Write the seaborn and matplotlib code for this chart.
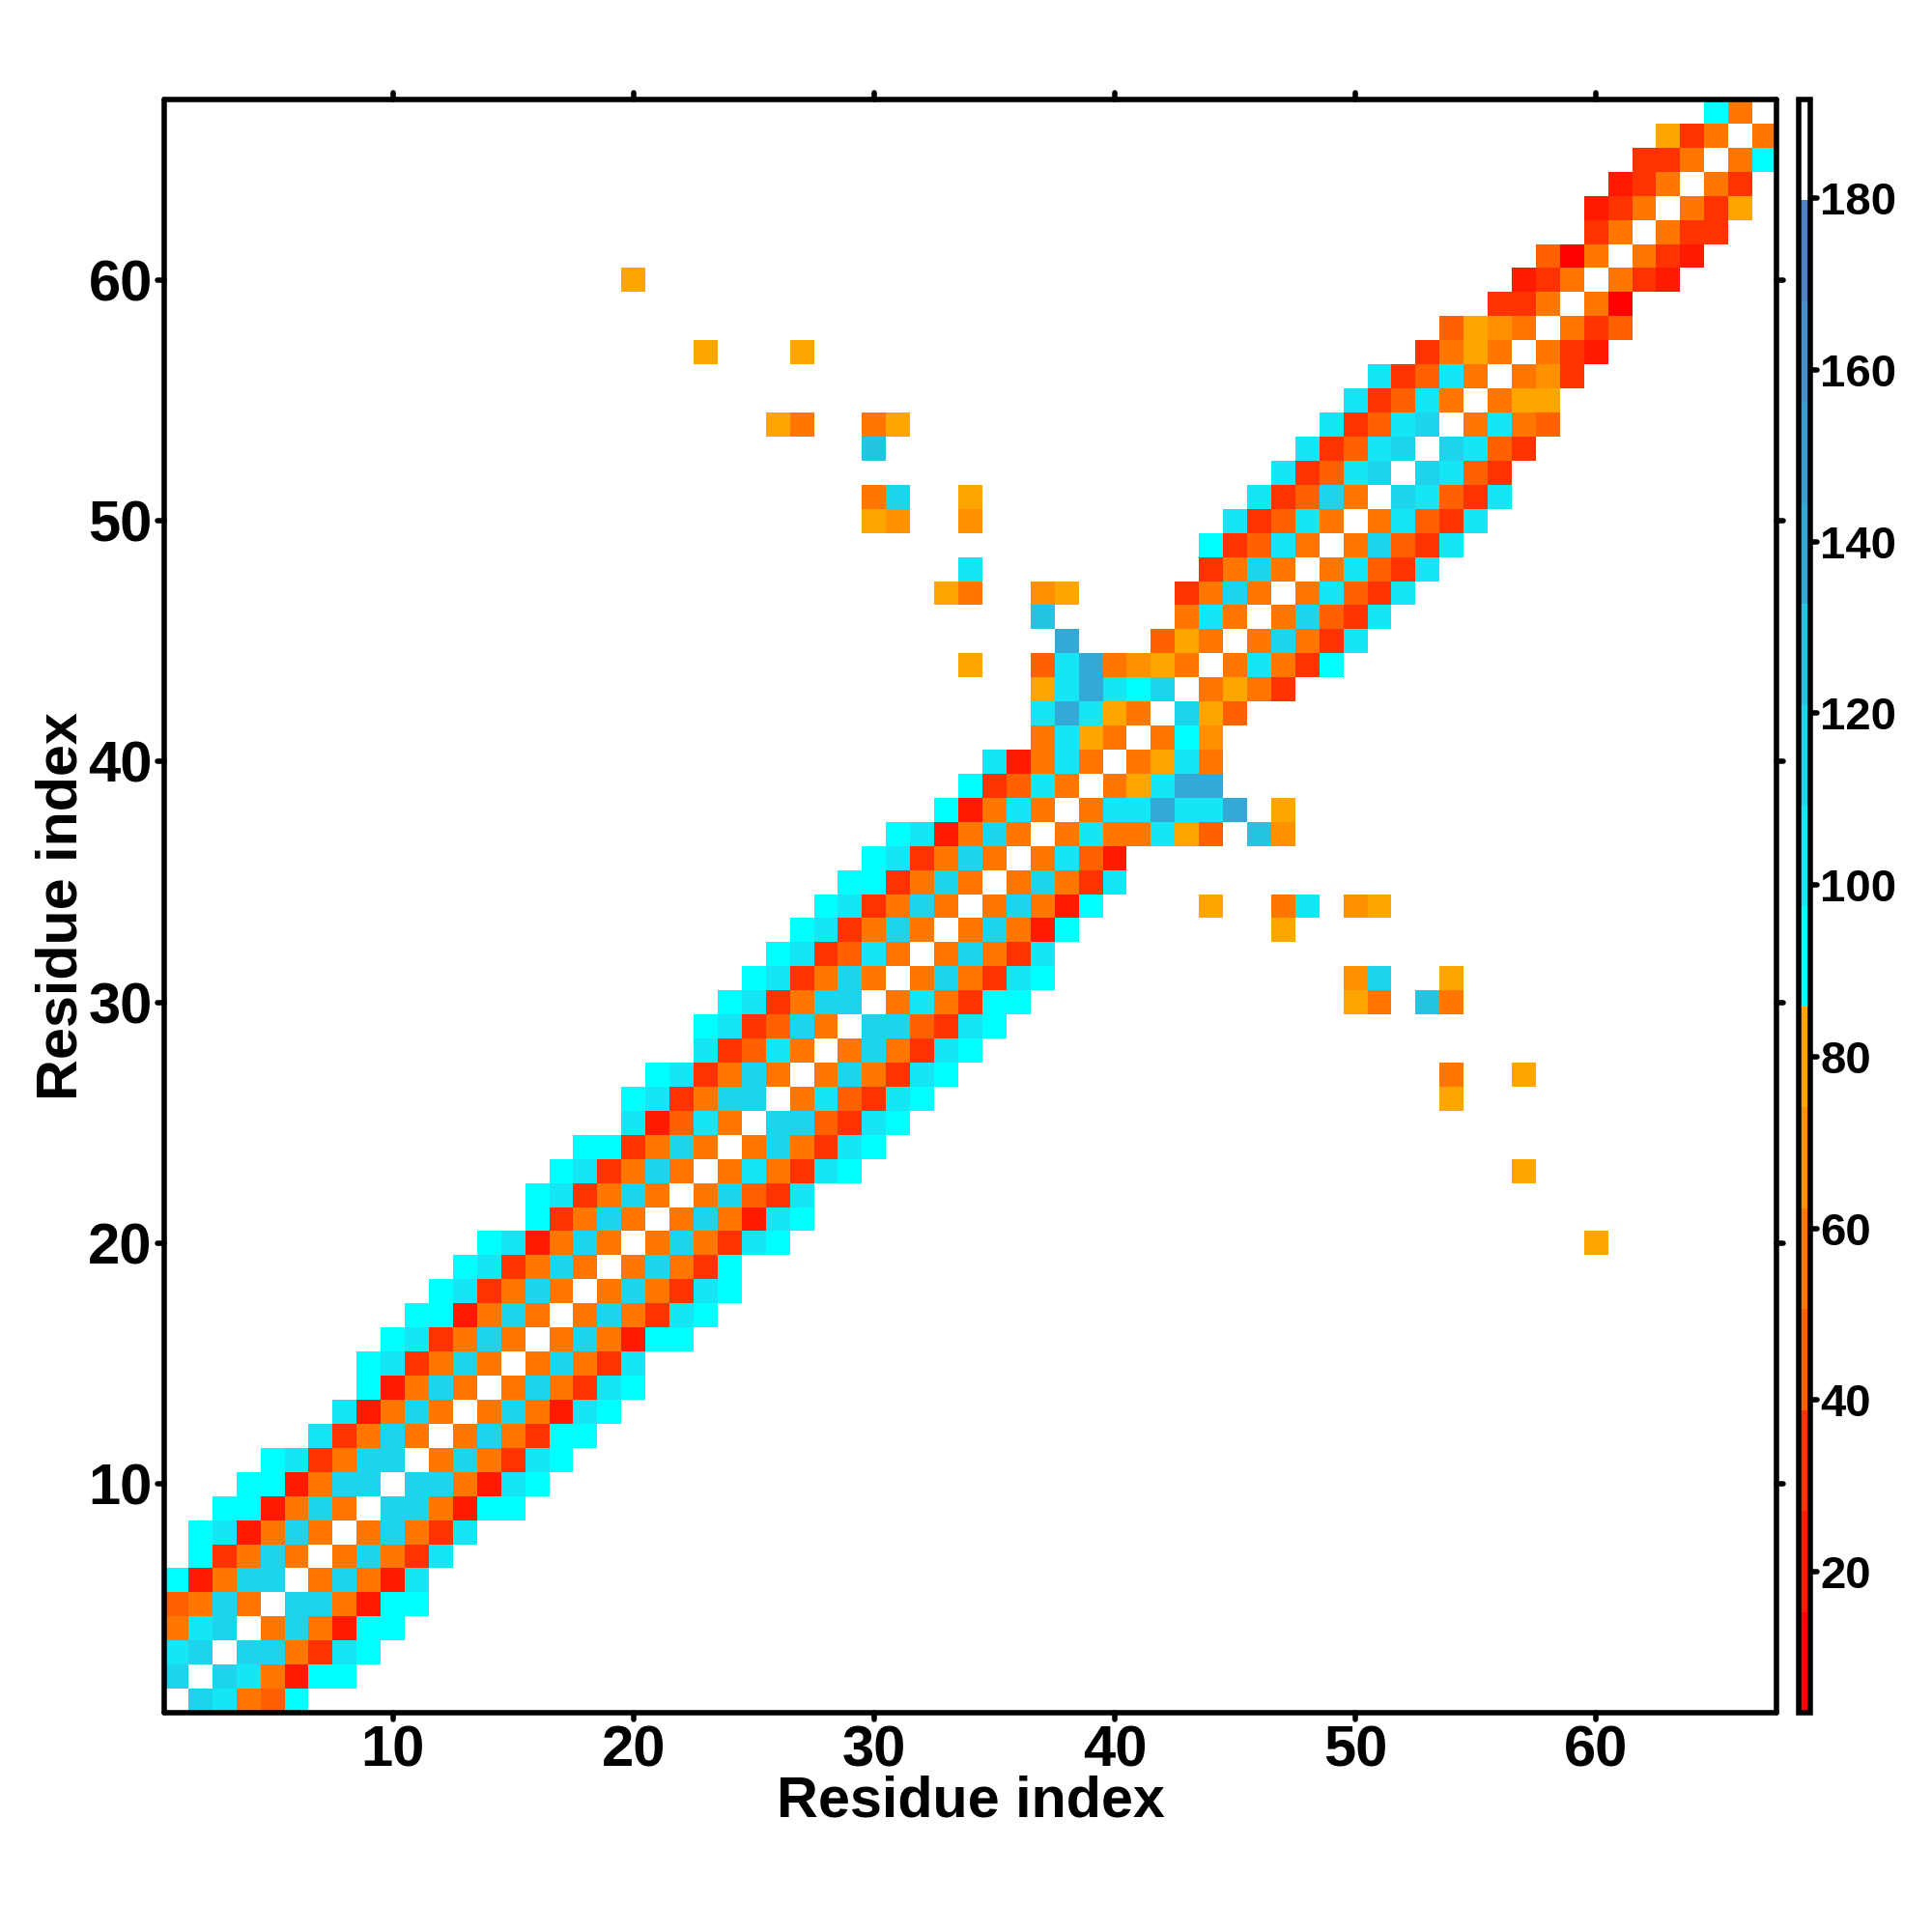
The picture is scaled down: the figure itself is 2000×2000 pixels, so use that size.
import numpy as np
import matplotlib
matplotlib.use("Agg")
import matplotlib.pyplot as plt
from matplotlib.colors import ListedColormap, BoundaryNorm
from matplotlib.markers import MarkerStyle, TICKDOWN, TICKUP, TICKLEFT, TICKRIGHT
import seaborn as sns

n_res = 67
diag_val = 186
tick_vals = [10, 20, 30, 40, 50, 60]
cbar_ticks = [20, 40, 60, 80, 100, 120, 140, 160, 180]

# distance levels of the colour bar
level_edges = [3.6, 15.3, 27.1, 38.8, 50.6, 62.3, 74.1, 85.8, 97.5, 109.3, 121.0, 132.8, 144.5, 156.3, 168.0, 179.8, 191.5]
level_colors = ["#ff0000", "#ff1a00", "#ff3300", "#ff6000", "#ff7700", "#ff9000", "#ffa500",
                "#00ffff", "#14e6f5", "#1cd4ec", "#25c5e2", "#34a9d5", "#3a9dd0", "#4690c9", "#4e80c3", "#ffffff"]

# values to the right of the diagonal, one list per residue
band = [
    [115, 103, 56, 45, 92],
    [115, 103, 56, 21, 92, 92],
    [115, 115, 56, 33, 103, 92],
    [56, 115, 56, 21, 92, 92],
    [115, 115, 56, 21, 92, 92],
    [56, 115, 56, 21, 103],
    [56, 115, 56, 33, 103],
    [56, 115, 56, 33, 103],
    [115, 115, 56, 21, 92, 92],
    [115, 115, 56, 21, 103, 92],
    [56, 115, 56, 33, 103, 92],
    [56, 115, 56, 33, 92, 92],
    [56, 115, 56, 21, 103, 92],
    [56, 115, 56, 33, 103, 92],
    [56, 115, 56, 33, 103],
    [56, 115, 56, 21, 92, 92],
    [56, 115, 56, 33, 103, 92],
    [56, 115, 56, 33, 103, 92],
    [56, 115, 56, 33, 92],
    [56, 115, 56, 33, 103, 92],
    [56, 115, 56, 21, 103, 92],
    [56, 115, 45, 33, 103],
    [56, 103, 56, 33, 103, 92],
    [56, 115, 56, 33, 103, 92],
    [115, 115, 45, 33, 103, 92],
    [56, 103, 45, 33, 103, 92],
    [56, 115, 56, 33, 103, 92],
    [56, 115, 56, 33, 103, 92],
    [115, 115, 45, 33, 103, 92],
    [56, 103, 56, 33, 92, 92],
    [56, 115, 56, 33, 103, 92],
    [56, 115, 56, 33, 103],
    [56, 115, 56, 21, 92],
    [56, 115, 56, 21, 92],
    [56, 115, 56, 33, 103],
    [56, 103, 45, 21],
    [56, 103, 56, 56, 103, 80, 45],
    [56, 103, 103, 139, 103, 103, 139],
    [56, 80, 103, 139, 139],
    [56, 80, 103, 56],
    [56, 92, 68],
    [115, 80, 45],
    [56, 80, 56, 33],
    [56, 103, 56, 33, 92],
    [56, 115, 56, 33, 103],
    [56, 115, 45, 33, 103],
    [56, 103, 45, 33, 103],
    [56, 103, 45, 33, 103],
    [56, 115, 45, 33, 103],
    [56, 103, 45, 33, 103],
    [115, 103, 45, 33, 103],
    [115, 103, 45, 33],
    [115, 103, 45, 33],
    [56, 103, 56, 45],
    [56, 80, 80],
    [56, 68, 33],
    [56, 33, 21],
    [56, 33, 45],
    [56, 9],
    [56, 33, 21],
    [56, 33, 21],
    [56, 33, 33],
    [56, 33, 80],
    [56, 33],
    [56, 92],
    [56],
]

# long range contacts away from the band
far_i = [20, 23, 27, 26, 27, 30, 31, 30, 30, 31, 34, 30, 31, 34, 34, 33, 34, 37, 38, 37, 34]
far_j = [60, 57, 57, 54, 54, 54, 54, 53, 51, 51, 51, 50, 50, 50, 48, 47, 47, 47, 47, 46, 44]
far_val = [80, 80, 80, 80, 56, 56, 80, 127, 56, 115, 80, 80, 68, 68, 103, 80, 56, 68, 80, 127, 80]

mat = np.full((n_res, n_res), np.nan)
for i in range(n_res):
    mat[i, i] = diag_val
for i, row in enumerate(band):
    for k, v in enumerate(row):
        mat[i, i + 1 + k] = v
        mat[i + 1 + k, i] = v
for i, j, v in zip(far_i, far_j, far_val):
    mat[i - 1, j - 1] = v
    mat[j - 1, i - 1] = v

sns.set_style("white")
plt.rcParams["font.family"] = ["Liberation Sans", "DejaVu Sans"]
plt.rcParams["font.weight"] = "bold"
plt.rcParams["text.color"] = "black"
plt.rcParams["axes.labelcolor"] = "black"
plt.rcParams["xtick.color"] = "black"
plt.rcParams["ytick.color"] = "black"

fig = plt.figure(figsize=(10, 10), dpi=200)
ax = fig.add_axes([170 / 2000, 1 - 1773 / 2000, 1669 / 2000, 1670 / 2000])
cax = fig.add_axes([1862 / 2000, 1 - 1773 / 2000, 12 / 2000, 1670 / 2000])

cmap = ListedColormap(level_colors)
norm = BoundaryNorm(level_edges, cmap.N)
sns.heatmap(mat, ax=ax, cbar_ax=cax, cmap=cmap, norm=norm, xticklabels=False, yticklabels=False,
            cbar_kws={"ticks": cbar_ticks, "spacing": "proportional"})

ax.set_xlim(0, n_res)
ax.set_ylim(0, n_res)
ax.set_xticks(np.array(tick_vals) - 0.5, [str(t) for t in tick_vals])
ax.set_yticks(np.array(tick_vals) - 0.5, [str(t) for t in tick_vals], rotation=0)
ax.tick_params(axis="both", which="major", length=2.4, width=2.0, color="black", labelcolor="black",
               labelsize=21.5, top=True, right=True, bottom=True, left=True, pad=2)
for tl in ax.get_xticklabels() + ax.get_yticklabels():
    tl.set_fontweight("bold")

ax.set_xlabel("Residue index", fontsize=21.4, fontweight="bold", color="black", labelpad=-1)
ax.set_ylabel("Residue index", fontsize=21.4, fontweight="bold", color="black", labelpad=0)

for side in ax.spines:
    ax.spines[side].set_visible(True)
    ax.spines[side].set_linewidth(2.0)
    ax.spines[side].set_color("black")
    ax.spines[side].set_capstyle("round")

for tick in ax.xaxis.get_major_ticks():
    tick.tick1line.set_marker(MarkerStyle(TICKDOWN, capstyle="round"))
    tick.tick2line.set_marker(MarkerStyle(TICKUP, capstyle="round"))
for tick in ax.yaxis.get_major_ticks():
    tick.tick1line.set_marker(MarkerStyle(TICKLEFT, capstyle="round"))
    tick.tick2line.set_marker(MarkerStyle(TICKRIGHT, capstyle="round"))

cb = ax.collections[0].colorbar
cb.minorticks_off()
cb.outline.set_visible(True)
cb.outline.set_linewidth(2.0)
cb.outline.set_edgecolor("black")
cb.ax.tick_params(length=2.4, width=2.0, color="black", labelcolor="black", labelsize=17, pad=1.2)
for tl in cb.ax.get_yticklabels():
    tl.set_fontweight("bold")
for tick in cb.ax.yaxis.get_major_ticks():
    tick.tick2line.set_marker(MarkerStyle(TICKRIGHT, capstyle="round"))

fig.savefig("out.png", dpi=200, facecolor="white")
